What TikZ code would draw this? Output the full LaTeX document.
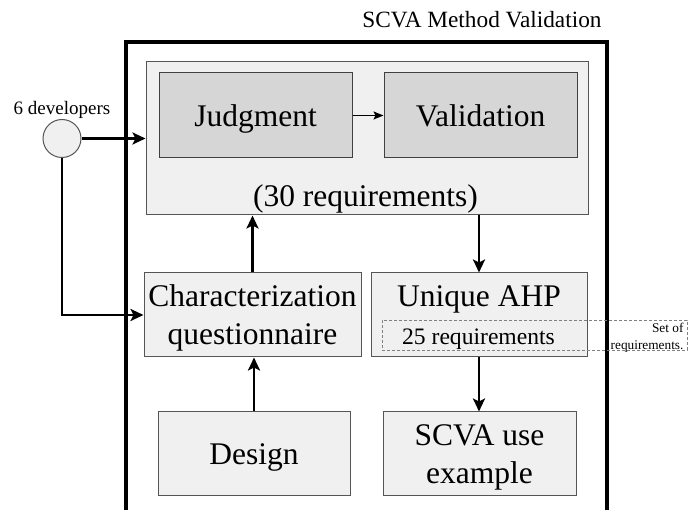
\documentclass[tikz,border=0pt]{standalone}
\usepackage{fontspec}
\setmainfont{Liberation Serif}
\usetikzlibrary{arrows.meta}

\definecolor{boxfill}{HTML}{F0F0F0}
\definecolor{stepfill}{HTML}{D6D6D6}
\definecolor{boxline}{HTML}{555555}

% taller first line, pushes two-line labels down a little
\newcommand{\upstrut}{\rule{0pt}{28pt}}

\begin{document}
\begin{tikzpicture}[x=1pt, y=-1pt,
    blk/.style={rectangle, draw=boxline, line width=1pt, fill=boxfill, inner sep=0pt, align=center, font=\fontsize{31.5}{38}\selectfont},
    stp/.style={blk, draw=black!75, fill=stepfill},
    oneline/.style={text height=22pt, text depth=0pt},
    arr/.style={-{Stealth[length=13pt, width=12pt, inset=3pt]}, line width=2.6pt},
    thinarr/.style={-{Stealth[length=10pt, width=8pt, inset=2pt]}, line width=1.5pt}]

    \useasboundingbox (0,0) rectangle (689,510);

    % Outer frame, open at the bottom
    \draw[line width=4pt] (126,515) -- (126,42) -- (607,42) -- (607,515);
    \node[font=\fontsize{23.3}{28}\selectfont] (title) at (482,20) {SCVA Method Validation};

    % Participants
    \node[font=\fontsize{19}{23}\selectfont] (devlabel) at (62,110) {6 developers};
    \node[circle, draw=boxline, line width=1pt, fill=boxfill, minimum size=38pt, inner sep=0pt] (dev) at (62,138.5) {};

    % Row 1: Judgment and Validation
    \node[blk, minimum width=442pt, minimum height=153pt] (reqs) at (367,138.5) {};
    \node[stp, oneline, minimum width=193pt, minimum height=85pt] (judg) at (255.5,115.5) {Judgment};
    \node[stp, oneline, minimum width=193pt, minimum height=85pt] (valid) at (480.5,115.5) {Validation};
    \node[font=\fontsize{31.5}{38}\selectfont] (reqnum) at (365.5,198.5) {(30 requirements)};

    % Row 2: Questionnaire and AHP
    \node[blk, minimum width=217pt, minimum height=84pt] (char) at (252.5,315) {\upstrut Characterization\\questionnaire};
    \node[blk, minimum width=216pt, minimum height=84pt] (ahp) at (479,315) {};
    \node[oneline, inner sep=0pt, font=\fontsize{31.5}{38}\selectfont] (ahptitle) at (479,296) {Unique AHP};
    \node[rectangle, draw=gray, line width=0.8pt, dash pattern=on 3pt off 2pt, minimum width=305pt, minimum height=30pt] (reqset) at (534.5,335) {};
    \node[font=\fontsize{23.6}{28}\selectfont] (req25) at (478.5,339) {25 requirements};
    \node[font=\fontsize{13.3}{17}\selectfont, align=right, anchor=east] (setlabel) at (687,338) {Set of\\requirements.};

    % Row 3: Design and example
    \node[blk, oneline, minimum width=192pt, minimum height=84pt] (design) at (254,454) {Design};
    \node[blk, minimum width=193pt, minimum height=84pt] (example) at (479.5,454) {\upstrut SCVA use\\example};

    % Arrows
    \draw[arr] (dev.east) -- (dev.east -| reqs.west);
    \draw[arr] (dev.south) |- (char.west);
    \draw[thinarr] (judg) -- (valid);
    \draw[arr] (char.north) -- (char.north |- reqs.south);
    \draw[arr] (ahp.north |- reqs.south) -- (ahp.north);
    \draw[arr] (design.north) -- (design.north |- char.south);
    \draw[arr] (ahp.south) -- (ahp.south |- example.north);
\end{tikzpicture}
\end{document}
